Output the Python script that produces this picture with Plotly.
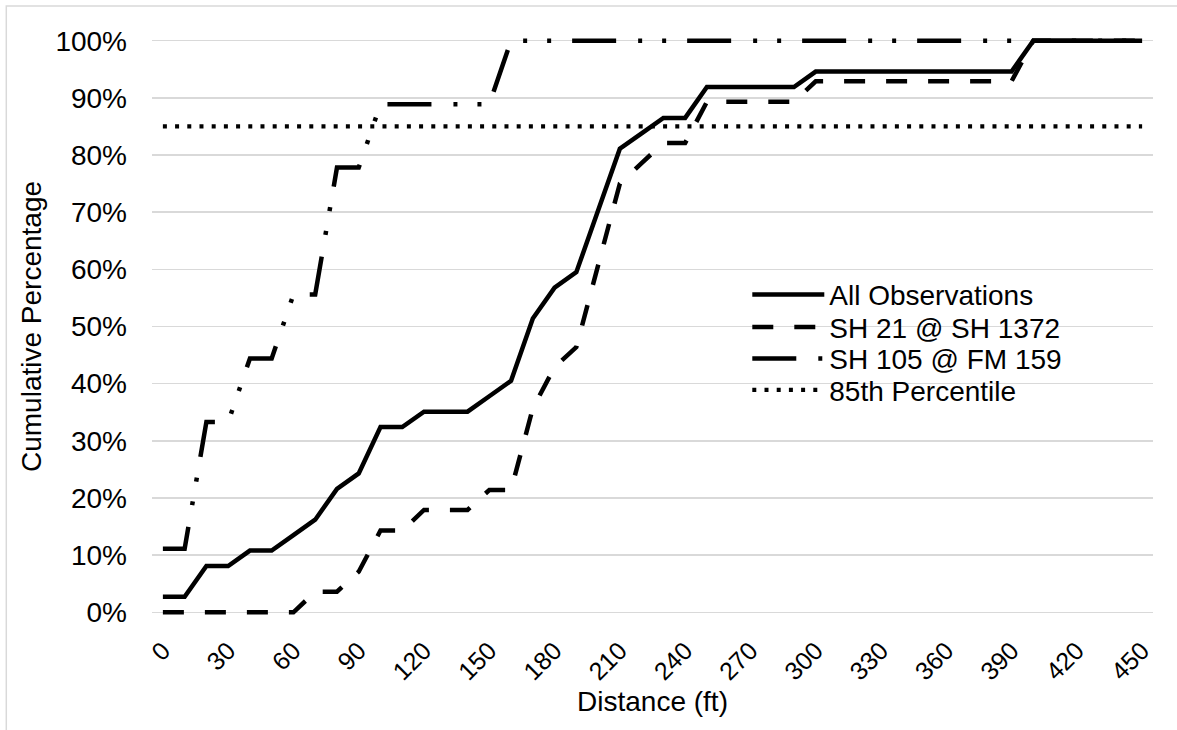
import plotly.graph_objects as go

# ---- data ----
distance_ft = list(range(0, 460, 10))

all_observations = [2.7, 2.7, 8.1, 8.1, 10.8, 10.8, 13.5, 16.2, 21.6, 24.3,
                    32.4, 32.4, 35.1, 35.1, 35.1, 37.8, 40.5, 51.4, 56.8, 59.5,
                    70.3, 81.1, 83.8, 86.5, 86.5,
                    91.9, 91.9, 91.9, 91.9, 91.9,
                    94.6, 94.6, 94.6, 94.6, 94.6, 94.6, 94.6, 94.6, 94.6, 94.6,
                    100, 100, 100, 100, 100, 100]

sh21_sh1372 = [0, 0, 0, 0, 0, 0, 0, 3.6, 3.6, 7.1,
               14.3, 14.3, 17.9, 17.9, 17.9, 21.4, 21.4, 35.7, 42.9, 46.4,
               60.7, 75.0, 78.6, 82.1, 82.1,
               89.3, 89.3, 89.3, 89.3, 89.3,
               92.9, 92.9, 92.9, 92.9, 92.9, 92.9, 92.9, 92.9, 92.9, 92.9,
               100, 100, 100, 100, 100, 100]

sh105_fm159 = [11.1, 11.1, 33.3, 33.3, 44.4, 44.4, 55.6, 55.6, 77.8, 77.8,
               88.9, 88.9, 88.9, 88.9, 88.9, 88.9] + [100] * 30

percentile_85 = [85] * 46

series_names = ["All Observations", "SH 21 @ SH 1372", "SH 105 @ FM 159", "85th Percentile"]

tick_vals = list(range(0, 460, 30))
tick_text = [str(v) for v in tick_vals]
y_ticks = [v / 100 for v in range(0, 101, 10)]
y_tick_text = [f"{v}%" for v in range(0, 101, 10)]

# ---- figure ----
W, H = 1177, 730
L, R = 151.7, 24.3
T, B = 35.0, 111.6
PW, PH = W - L - R, H - T - B
FONT = "Liberation Sans, Arial, sans-serif"

def frac(vals):
    return [v / 100 for v in vals]

styles = [
    dict(color="black", width=4.5, dash="solid"),
    dict(color="black", width=4.5, dash="21px,21px"),
    dict(color="black", width=4.5, dash="44px,22px,4px,20px,4px,21px"),
    dict(color="black", width=4.2, dash="4px,8.2px"),
]
series = [all_observations, sh21_sh1372, sh105_fm159, percentile_85]
legend_ids = ["legend", "legend2", "legend3", "legend4"]
row_centers_px = [295, 327.5, 359, 390.5]

fig = go.Figure()
for name, vals, st, lid in zip(series_names, series, styles, legend_ids):
    fig.add_trace(go.Scatter(x=distance_ft, y=frac(vals), mode="lines",
                             name=name, line=st, legend=lid))

legend_common = dict(x=(747 - L) / PW, xanchor="left", yanchor="middle",
                     bgcolor="rgba(0,0,0,0)", borderwidth=0,
                     font=dict(family=FONT, size=28, color="black"),
                     itemwidth=72)
legend_layout = {}
for lid, yc in zip(legend_ids, row_centers_px):
    legend_layout[lid] = dict(legend_common, y=(H - B - yc) / PH)

fig.update_layout(
    width=W, height=H,
    margin=dict(l=L, r=R, t=T, b=B, autoexpand=False),
    paper_bgcolor="white", plot_bgcolor="white",
    font=dict(family=FONT, size=28, color="black"),
    showlegend=True,
    shapes=[dict(type="rect", xref="paper", yref="paper",
                 x0=(6 - L) / PW, x1=1.2,
                 y0=-0.5, y1=(H - B - 6) / PH,
                 line=dict(color="#d9d9d9", width=1.5), layer="below")],
    **legend_layout,
)

fig.update_xaxes(
    range=[-5, 455], tickmode="array", tickvals=tick_vals, ticktext=tick_text,
    tickangle=-45, showgrid=False, zeroline=False, showline=False,
    ticks="", ticklabelstandoff=12,
    tickfont=dict(family=FONT, size=25, color="black"),
    title=dict(text="Distance (ft)", standoff=7,
               font=dict(family=FONT, size=28, color="black")),
    automargin=False,
)
fig.update_yaxes(
    range=[-0.01, 1.01], tickmode="array", tickvals=y_ticks, ticktext=y_tick_text,
    showgrid=True, gridcolor="#d9d9d9", gridwidth=1.5,
    zeroline=False, showline=False, ticks="", ticklabelstandoff=24,
    tickfont=dict(family=FONT, size=28, color="black"),
    title=dict(text="Cumulative Percentage", standoff=5,
               font=dict(family=FONT, size=28, color="black")),
    automargin=False,
)

fig.write_html("out.html",
               config={"displayModeBar": False, "staticPlot": True},
               post_script="document.body.style.margin='0';document.body.style.overflow='hidden';")
